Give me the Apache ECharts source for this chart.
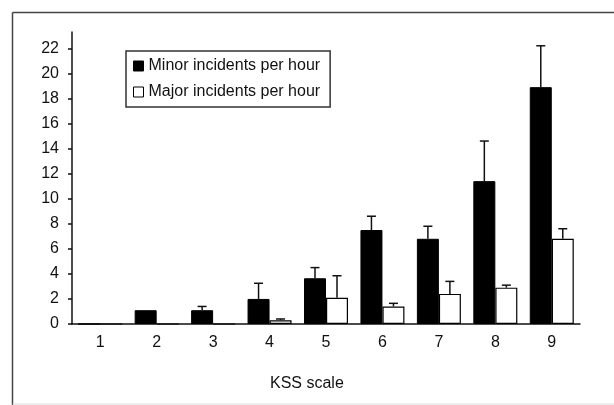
<!DOCTYPE html>
<html>
<head>
<meta charset="utf-8">
<script src="https://cdn.jsdelivr.net/npm/echarts@6/dist/echarts.min.js"></script>
<style>
  html, body { margin: 0; padding: 0; background: #fff; }
  #chart { width: 614px; height: 405px; }
</style>
</head>
<body>
<div id="chart"></div>
<script>
// KSS scale categories
var categories = ['1', '2', '3', '4', '5', '6', '7', '8', '9'];
var minorPerHour = [0, 1.1, 1.1, 2.0, 3.65, 7.5, 6.8, 11.4, 18.9];
var minorError   = [0, 0, 0.3, 1.25, 0.85, 1.1, 1.0, 3.2, 3.3];
var majorPerHour = [0, 0, 0, 0.3, 2.1, 1.4, 2.4, 2.9, 6.8];
var majorError   = [0, 0, 0, 0.1, 1.75, 0.25, 1.0, 0.2, 0.8];
var yTicks = [0, 2, 4, 6, 8, 10, 12, 14, 16, 18, 20, 22];

var font = '"Liberation Sans", Arial, sans-serif';
var barW = 22;

function errorSeries(values, errors, side) {
    return {
        type: 'custom',
        silent: true,
        z: 5,
        data: values.map(function (v, i) { return [i, v, errors[i]]; }),
        renderItem: function (params, api) {
            var err = api.value(2);
            if (!err) return;
            var val = api.value(1);
            var base = api.coord([api.value(0), val]);
            var top = api.coord([api.value(0), val + err]);
            var x = base[0] + side * barW / 2;
            var st = { stroke: '#111', lineWidth: 1.5 };
            return {
                type: 'group',
                children: [
                    { type: 'line', shape: { x1: x, y1: base[1], x2: x, y2: top[1] }, style: st },
                    { type: 'line', shape: { x1: x - 4.5, y1: top[1], x2: x + 4.5, y2: top[1] }, style: st }
                ]
            };
        }
    };
}

var myChart = echarts.init(document.getElementById('chart'));

myChart.setOption({
    animation: false,
    textStyle: { fontFamily: font },
    title: {
        text: 'KSS scale',
        left: 270,
        top: 376,
        padding: 0,
        textStyle: { fontFamily: font, fontSize: 16, fontWeight: 'normal', color: '#111', lineHeight: 16 }
    },
    legend: {
        orient: 'vertical',
        left: 126,
        top: 51,
        padding: [7, 10, 7, 7],
        itemGap: 10,
        itemWidth: 10,
        itemHeight: 10,
        borderColor: '#333',
        borderWidth: 1.5,
        textStyle: { fontFamily: font, fontSize: 16, color: '#111', lineHeight: 16 },
        data: [
            { name: 'Minor incidents per hour', icon: 'rect', itemStyle: { color: '#000', borderColor: '#000', borderWidth: 1 } },
            { name: 'Major incidents per hour', icon: 'rect', itemStyle: { color: '#fff', borderColor: '#000', borderWidth: 1 } }
        ]
    },
    grid: { left: 72, right: 34, top: 32, bottom: 81 },
    xAxis: {
        type: 'category',
        data: categories,
        axisLine: { lineStyle: { color: '#111', width: 1.5 } },
        axisTick: { length: 4, lineStyle: { color: '#111', width: 1.5 } },
        axisLabel: { margin: 11, fontFamily: font, fontSize: 16, color: '#111', lineHeight: 16 }
    },
    yAxis: {
        type: 'value',
        min: 0,
        max: 23.3,
        interval: 2,
        splitLine: { show: false },
        axisLine: { show: true, lineStyle: { color: '#111', width: 1.5 } },
        axisTick: { show: true, length: 4, customValues: yTicks, lineStyle: { color: '#111', width: 1.5 } },
        axisLabel: { margin: 13, customValues: yTicks, fontFamily: font, fontSize: 16, color: '#111' }
    },
    series: [{
        name: 'Minor incidents per hour',
        type: 'bar',
        barWidth: barW,
        barGap: '0%',
        data: minorPerHour,
        itemStyle: { color: '#000', borderColor: '#000', borderWidth: 1 }
    }, {
        name: 'Major incidents per hour',
        type: 'bar',
        barWidth: barW,
        barGap: '0%',
        data: majorPerHour,
        itemStyle: { color: '#fff', borderColor: '#000', borderWidth: 1.2 }
    },
    errorSeries(minorPerHour, minorError, -1),
    errorSeries(majorPerHour, majorError, 1)],
    graphic: [
        { type: 'line', shape: { x1: 12.5, y1: 12.5, x2: 614, y2: 12.5 }, style: { stroke: '#444', lineWidth: 1.5 } },
        { type: 'line', shape: { x1: 12.5, y1: 12.5, x2: 12.5, y2: 405 }, style: { stroke: '#444', lineWidth: 1.5 } },
        { type: 'line', shape: { x1: 12.5, y1: 404, x2: 614, y2: 404 }, style: { stroke: '#ddd', lineWidth: 1 } }
    ]
});
</script>
</body>
</html>
